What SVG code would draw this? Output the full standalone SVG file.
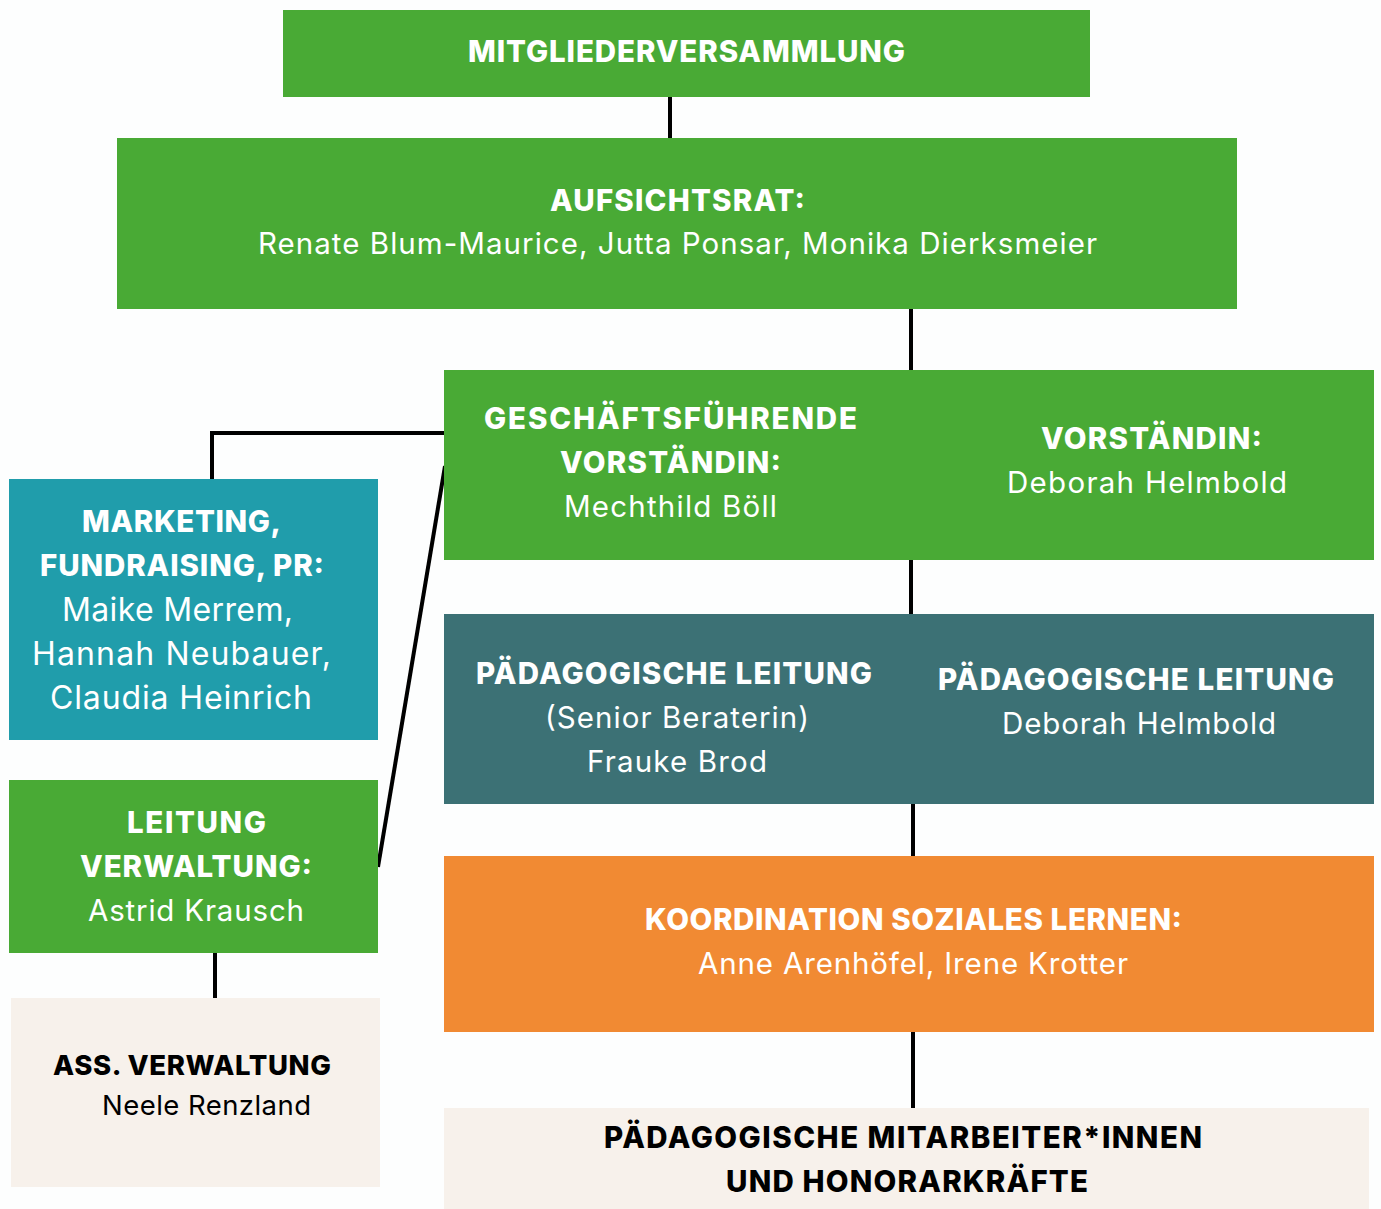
<svg xmlns="http://www.w3.org/2000/svg" width="1381" height="1209" viewBox="0 0 1381 1209">
<style>
text{font-family:Inter,"Liberation Sans",sans-serif;text-anchor:middle;font-size:29.5px}
.b{font-weight:800}
.m{font-size:32px}
.s{font-size:27.5px}
.w{fill:#ffffff}
.k{fill:#000000}
.ln{stroke:#000;stroke-width:4;fill:none}
</style>
<rect width="1381" height="1209" fill="#fdfefe"/>
<g id="connectors">
<line class="ln" x1="670" y1="97" x2="670" y2="138"/>
<line class="ln" x1="911" y1="309" x2="911" y2="370"/>
<polyline class="ln" points="444,433 212,433 212,479"/>
<line class="ln" x1="445" y1="466" x2="378" y2="867"/>
<line class="ln" x1="911" y1="560" x2="911" y2="614"/>
<line class="ln" x1="913" y1="804" x2="913" y2="856"/>
<line class="ln" x1="913" y1="1032" x2="913" y2="1108"/>
<line class="ln" x1="215" y1="953" x2="215" y2="998"/>
</g>
<g id="mitglieder">
<rect x="283" y="10" width="807" height="87" fill="#49aa35"/>
<text class="b w" x="686.5" y="62" textLength="437" lengthAdjust="spacing">MITGLIEDERVERSAMMLUNG</text>
</g>
<g id="aufsichtsrat">
<rect x="117" y="138" width="1120" height="171" fill="#49aa35"/>
<text class="b w" x="677.5" y="211" textLength="255" lengthAdjust="spacing">AUFSICHTSRAT:</text>
<text class="w" x="677.5" y="254" textLength="839" lengthAdjust="spacing">Renate Blum-Maurice, Jutta Ponsar, Monika Dierksmeier</text>
</g>
<g id="vorstand">
<rect x="444" y="370" width="930" height="190" fill="#49aa35"/>
<text class="b w" x="670.5" y="429" textLength="373" lengthAdjust="spacing">GESCHÄFTSFÜHRENDE</text>
<text class="b w" x="670.5" y="473" textLength="221" lengthAdjust="spacing">VORSTÄNDIN:</text>
<text class="w" x="670.5" y="517" textLength="213" lengthAdjust="spacing">Mechthild Böll</text>
<text class="b w" x="1151.5" y="449" textLength="221" lengthAdjust="spacing">VORSTÄNDIN:</text>
<text class="w" x="1147" y="493" textLength="280" lengthAdjust="spacing">Deborah Helmbold</text>
</g>
<g id="paedagogische-leitung">
<rect x="444" y="614" width="930" height="190" fill="#3c7175"/>
<text class="b w" x="674" y="684" textLength="396" lengthAdjust="spacing">PÄDAGOGISCHE LEITUNG</text>
<text class="w" x="677" y="728" textLength="264" lengthAdjust="spacing">(Senior Beraterin)</text>
<text class="w" x="677" y="772" textLength="180" lengthAdjust="spacing">Frauke Brod</text>
<text class="b w" x="1136" y="690" textLength="396" lengthAdjust="spacing">PÄDAGOGISCHE LEITUNG</text>
<text class="w" x="1139" y="734" textLength="274" lengthAdjust="spacing">Deborah Helmbold</text>
</g>
<g id="koordination">
<rect x="444" y="856" width="930" height="176" fill="#f18a33"/>
<text class="b w" x="913.5" y="930" textLength="537" lengthAdjust="spacing">KOORDINATION SOZIALES LERNEN:</text>
<text class="w" x="913" y="974" textLength="430" lengthAdjust="spacing">Anne Arenhöfel, Irene Krotter</text>
</g>
<g id="mitarbeiter">
<rect x="444" y="1108" width="925" height="101" fill="#f7f1eb"/>
<text class="b k" x="903" y="1148" textLength="598" lengthAdjust="spacing">PÄDAGOGISCHE MITARBEITER*INNEN</text>
<text class="b k" x="907" y="1192" textLength="362" lengthAdjust="spacing">UND HONORARKRÄFTE</text>
</g>
<g id="marketing">
<rect x="9" y="479" width="369" height="261" fill="#209dab"/>
<text class="b w" x="181.5" y="532" textLength="199" lengthAdjust="spacing">MARKETING,</text>
<text class="b w" x="182" y="576" textLength="284" lengthAdjust="spacing">FUNDRAISING, PR:</text>
<text class="m w" x="177.5" y="621" textLength="231" lengthAdjust="spacing">Maike Merrem,</text>
<text class="m w" x="181.5" y="665" textLength="299" lengthAdjust="spacing">Hannah Neubauer,</text>
<text class="m w" x="181" y="709" textLength="262" lengthAdjust="spacing">Claudia Heinrich</text>
</g>
<g id="leitung-verwaltung">
<rect x="9" y="780" width="369" height="173" fill="#49aa35"/>
<text class="b w" x="196.5" y="833" textLength="139" lengthAdjust="spacing">LEITUNG</text>
<text class="b w" x="196" y="877" textLength="232" lengthAdjust="spacing">VERWALTUNG:</text>
<text class="w" x="196" y="921" textLength="216" lengthAdjust="spacing">Astrid Krausch</text>
</g>
<g id="ass-verwaltung">
<rect x="11" y="998" width="369" height="189" fill="#f7f1eb"/>
<text class="b k s" x="192" y="1075" textLength="278" lengthAdjust="spacing">ASS. VERWALTUNG</text>
<text class="k s" x="206.5" y="1115" textLength="209" lengthAdjust="spacing">Neele Renzland</text>
</g>
</svg>
